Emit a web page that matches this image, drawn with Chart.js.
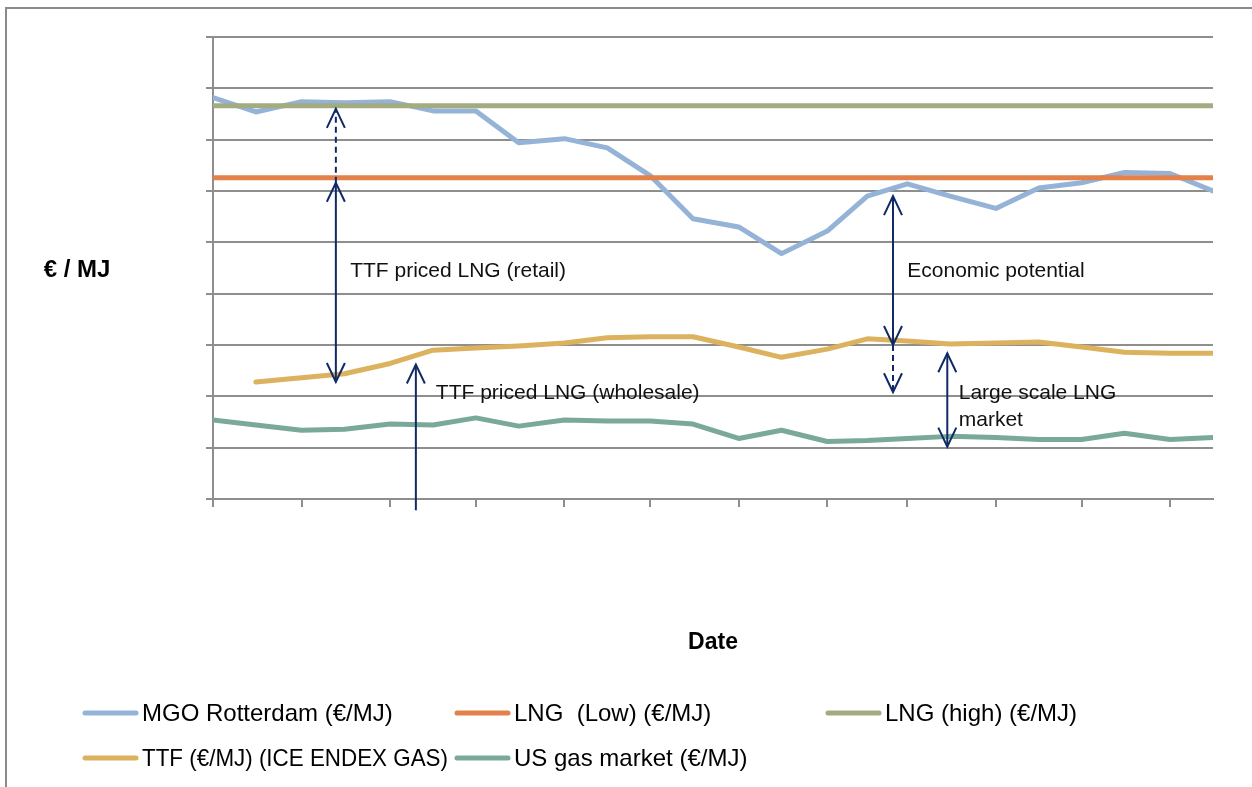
<!DOCTYPE html>
<html>
<head>
<meta charset="utf-8">
<script src="https://cdn.jsdelivr.net/npm/chart.js@4.4.1/dist/chart.umd.min.js"></script>
<style>
  html, body { margin: 0; padding: 0; background: #fff; overflow: hidden; }
  #wrap { position: relative; width: 1252px; height: 787px; }
</style>
</head>
<body>
<div id="wrap"><canvas id="c" width="1252" height="787"></canvas></div>
<script>
// Half-monthly observation dates
const dates = [
  '2014-07-01','2014-07-16','2014-08-01','2014-08-16','2014-09-01','2014-09-16',
  '2014-10-01','2014-10-16','2014-11-01','2014-11-16','2014-12-01','2014-12-16',
  '2015-01-01','2015-01-16','2015-02-01','2015-02-15','2015-03-01','2015-03-16',
  '2015-04-01','2015-04-16','2015-05-01','2015-05-16','2015-06-01','2015-06-16'
];
// Month boundaries used as tick marks on the date axis
const monthTicks = [
  '2014-07-01','2014-08-01','2014-09-01','2014-10-01','2014-11-01','2014-12-01',
  '2015-01-01','2015-02-01','2015-03-01','2015-04-01','2015-05-01','2015-06-01'
];

// Prices in €/MJ
const mgoRotterdam = [
  0.0391, 0.0377, 0.0387, 0.0386, 0.0387, 0.0378, 0.0378, 0.0347, 0.0351, 0.0342, 0.0315, 0.0273,
  0.0265, 0.0239, 0.0261, 0.0295, 0.0307, 0.0295, 0.0283, 0.0303, 0.0308, 0.0318, 0.0317, 0.0300
];
const lngLow = 0.0313;
const lngHigh = 0.0383;
const ttfIceEndex = [
  null,   0.0114, 0.0118, 0.0122, 0.0132, 0.0145, 0.0147, 0.0149, 0.0152, 0.0157, 0.0158, 0.0158,
  0.0148, 0.0138, 0.0146, 0.0156, 0.0154, 0.0151, 0.0152, 0.0153, 0.0148, 0.0143, 0.0142, 0.0142
];
const usGasMarket = [
  0.0077, 0.0072, 0.0067, 0.0068, 0.0073, 0.0072, 0.0079, 0.0071, 0.0077, 0.0076, 0.0076, 0.0073,
  0.0059, 0.0067, 0.0056, 0.0057, 0.0059, 0.0061, 0.0060, 0.0058, 0.0058, 0.0064, 0.0058, 0.0060
];

const seriesNames = [
  'MGO Rotterdam (€/MJ)',
  'LNG  (Low) (€/MJ)',
  'LNG (high) (€/MJ)',
  'TTF (€/MJ) (ICE ENDEX GAS)',
  'US gas market (€/MJ)'
];
const seriesColors = ['#95b3d7', '#e3814b', '#a3ab80', '#dcb25e', '#7aa99a'];

const yMin = 0, yMax = 0.045, yStep = 0.005;

// Annotation arrows (date + values in €/MJ)
const arrows = [
  { date: '2014-08-13', from: 0.0308, to: 0.0114, heads: 'both' },
  { date: '2014-08-13', from: 0.0308, to: 0.0380, heads: 'end', dashed: true },
  { date: '2014-09-10', from: -0.0011, to: 0.0131, heads: 'end' },
  { date: '2015-02-24', from: 0.0295, to: 0.0150, heads: 'both' },
  { date: '2015-02-24', from: 0.0150, to: 0.0104, heads: 'end', dashed: true },
  { date: '2015-03-15', from: 0.0142, to: 0.0051, heads: 'both' }
];
const notes = [
  { date: '2014-08-18', value: 0.0222, text: 'TTF priced LNG (retail)' },
  { date: '2014-09-17', value: 0.0103, text: 'TTF priced LNG (wholesale)' },
  { date: '2015-03-01', value: 0.0222, text: 'Economic potential' },
  { date: '2015-03-19', value: 0.0103, text: 'Large scale LNG' },
  { date: '2015-03-19', value: 0.0077, text: 'market' }
];

const yTitle = '€ / MJ';
const xTitle = 'Date';

const t0 = Date.parse(dates[0]);
const dayOf = d => Math.round((Date.parse(d) - t0) / 864e5);
const series = arr => arr.map((v, i) => ({ x: dayOf(dates[i]), y: v }));
const flat = v => [{ x: dayOf(dates[0]), y: v }, { x: dayOf(dates[dates.length - 1]), y: v }];

const GRID = '#8e8e8e';
const INK = '#0f2a66';
const FONT = '"Liberation Sans", Arial, sans-serif';

function drawArrowHead(ctx, x, y, dir) {
  // dir: -1 points up, +1 points down
  ctx.beginPath();
  ctx.moveTo(x - 9, y - dir * 19);
  ctx.lineTo(x, y);
  ctx.lineTo(x + 9, y - dir * 19);
  ctx.stroke();
}

const decor = {
  id: 'decor',
  beforeDraw(chart) {
    const ctx = chart.ctx;
    ctx.save();
    ctx.fillStyle = '#fff';
    ctx.fillRect(0, 0, chart.width, chart.height);
    ctx.strokeStyle = '#8a8a8a';
    ctx.lineWidth = 2;
    ctx.beginPath();
    ctx.moveTo(6, chart.height);
    ctx.lineTo(6, 8);
    ctx.lineTo(chart.width, 8);
    ctx.stroke();
    ctx.restore();
  },
  afterDatasetsDraw(chart) {
    const ctx = chart.ctx;
    const xs = chart.scales.x, ys = chart.scales.y;
    ctx.save();
    ctx.strokeStyle = INK;
    ctx.lineWidth = 2;
    arrows.forEach(a => {
      const x = xs.getPixelForValue(dayOf(a.date));
      const y1 = ys.getPixelForValue(a.from);
      const y2 = ys.getPixelForValue(a.to);
      ctx.setLineDash(a.dashed ? [6, 4] : []);
      ctx.beginPath();
      ctx.moveTo(x, y1);
      ctx.lineTo(x, y2);
      ctx.stroke();
      ctx.setLineDash([]);
      const dir = y2 > y1 ? 1 : -1;
      drawArrowHead(ctx, x, y2, dir);
      if (a.heads === 'both') drawArrowHead(ctx, x, y1, -dir);
    });
    ctx.fillStyle = '#111';
    ctx.font = '21px ' + FONT;
    ctx.textAlign = 'left';
    ctx.textBaseline = 'middle';
    notes.forEach(n => {
      ctx.fillText(n.text, xs.getPixelForValue(dayOf(n.date)), ys.getPixelForValue(n.value));
    });
    ctx.restore();
  },
  afterDraw(chart) {
    const ctx = chart.ctx;
    ctx.save();
    ctx.fillStyle = '#000';
    ctx.textBaseline = 'middle';
    ctx.textAlign = 'center';
    ctx.font = 'bold 24px ' + FONT;
    ctx.fillText(yTitle, 77, 270);
    ctx.font = 'bold 23px ' + FONT;
    ctx.fillText(xTitle, 713, 643);

    // legend laid out in three columns
    const cols = [83, 455, 826];
    const colWidth = cols[1] - cols[0];
    const rows = [713, 758];
    ctx.textAlign = 'left';
    ctx.font = '24px ' + FONT;
    chart.data.datasets.forEach((ds, i) => {
      const x = cols[i % 3], y = rows[Math.floor(i / 3)];
      ctx.strokeStyle = ds.borderColor;
      ctx.lineWidth = 5;
      ctx.lineCap = 'round';
      ctx.beginPath();
      ctx.moveTo(x + 2, y);
      ctx.lineTo(x + 53, y);
      ctx.stroke();
      ctx.fillStyle = '#000';
      ctx.fillText(ds.label, x + 59, y + 1, colWidth - 66);
    });
    ctx.restore();
  }
};

const values = [mgoRotterdam, null, null, ttfIceEndex, usGasMarket];
const datasets = seriesNames.map((name, i) => ({
  label: name,
  data: i === 1 ? flat(lngLow) : i === 2 ? flat(lngHigh) : series(values[i]),
  borderColor: seriesColors[i],
  backgroundColor: seriesColors[i],
  borderWidth: 5,
  borderCapStyle: 'round',
  borderJoinStyle: 'round',
  pointRadius: 0,
  tension: 0,
  spanGaps: false,
  order: seriesNames.length - i
}));

new Chart(document.getElementById('c'), {
  type: 'line',
  data: { datasets },
  options: {
    responsive: false,
    animation: false,
    devicePixelRatio: 1,
    layout: { padding: { top: 37, right: 39, bottom: 0, left: 0 } },
    plugins: { legend: { display: false }, tooltip: { enabled: false }, title: { display: false } },
    scales: {
      x: {
        type: 'linear',
        min: dayOf(dates[0]),
        max: dayOf(dates[dates.length - 1]),
        afterBuildTicks: axis => { axis.ticks = monthTicks.map(d => ({ value: dayOf(d) })); },
        afterFit: axis => { axis.height = 288; },
        ticks: { display: false },
        grid: { drawOnChartArea: false, drawTicks: true, tickLength: 8, color: GRID, lineWidth: 2 },
        border: { display: true, color: GRID, width: 2 }
      },
      y: {
        min: yMin, max: yMax,
        afterFit: axis => { axis.width = 213; },
        ticks: { display: false, stepSize: yStep },
        grid: { drawTicks: true, tickLength: 7, color: GRID, lineWidth: 2 },
        border: { display: true, color: GRID, width: 2 }
      }
    }
  },
  plugins: [decor]
});
</script>
</body>
</html>
